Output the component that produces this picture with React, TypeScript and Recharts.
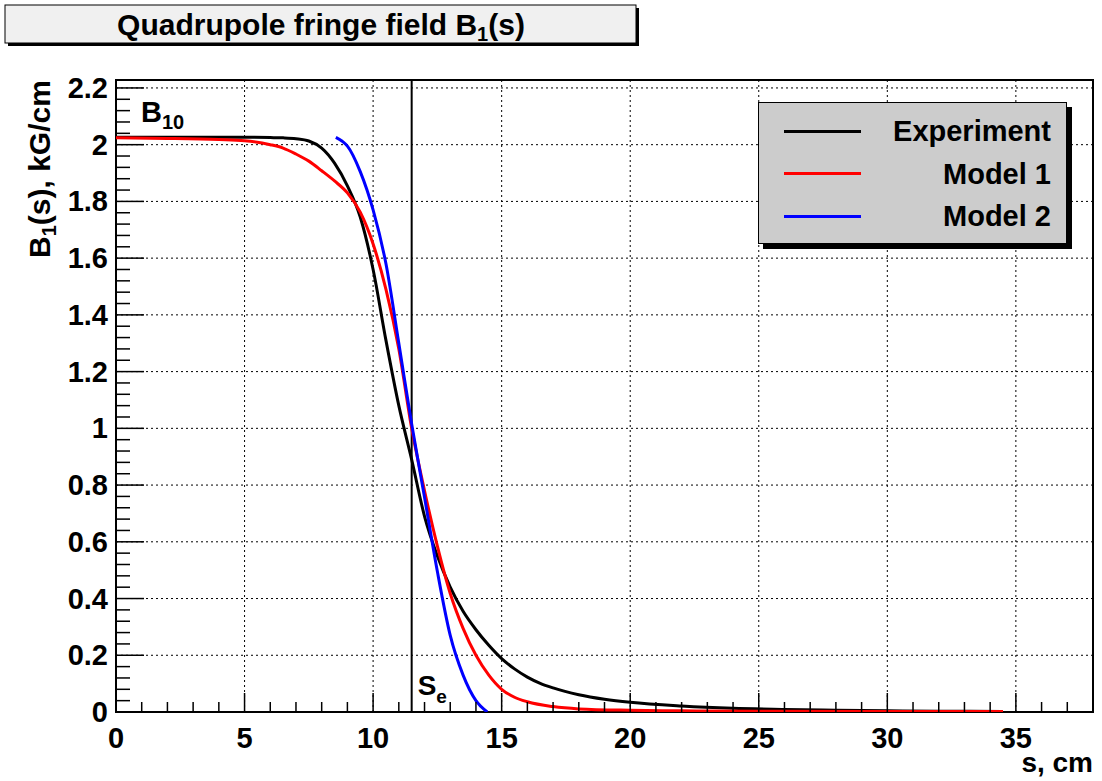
import {
  LineChart,
  Line,
  XAxis,
  YAxis,
  CartesianGrid,
  ReferenceLine,
  ReferenceArea,
  Legend,
  Customized,
} from 'recharts';

const FONT = '"Liberation Sans", Arial, Helvetica, sans-serif';

// Experiment
const expS = [0, 2, 4, 5, 6, 6.5, 7, 7.5, 8, 8.5, 9, 9.5, 10, 10.5, 11, 11.5, 12, 12.5, 13, 13.5, 14, 14.5, 15, 15.5, 16, 16.5, 17, 18, 19, 20, 22, 24, 26, 28, 30, 32, 34.5];
const expB = [2.026, 2.026, 2.026, 2.026, 2.025, 2.024, 2.021, 2.013, 1.988, 1.935, 1.855, 1.745, 1.56, 1.31, 1.08, 0.89, 0.69, 0.55, 0.44, 0.355, 0.29, 0.235, 0.188, 0.152, 0.123, 0.101, 0.085, 0.061, 0.045, 0.034, 0.021, 0.013, 0.009, 0.006, 0.004, 0.003, 0.002];

// Model 1
const m1S = [0, 2, 4, 5, 6, 6.5, 7, 7.5, 8, 8.5, 9, 9.5, 10, 10.5, 11, 11.5, 12, 12.5, 13, 13.5, 14, 14.5, 15, 15.5, 16, 17, 18, 20, 22, 25, 30, 34.5];
const m1B = [2.024, 2.022, 2.018, 2.014, 2.0, 1.988, 1.967, 1.942, 1.908, 1.872, 1.83, 1.762, 1.65, 1.49, 1.28, 1.0, 0.78, 0.585, 0.418, 0.295, 0.2, 0.13, 0.08, 0.052, 0.036, 0.019, 0.011, 0.006, 0.004, 0.003, 0.002, 0.002];

// Model 2
const m2S = [8.55, 8.8, 9, 9.5, 10, 10.5, 11, 11.5, 12, 12.5, 13, 13.5, 14, 14.44];
const m2B = [2.026, 2.012, 1.995, 1.905, 1.77, 1.58, 1.3, 1.015, 0.757, 0.495, 0.27, 0.13, 0.04, 0.0];

const xTicks = [0, 5, 10, 15, 20, 25, 30, 35];
const xMinorTicks = [1, 2, 3, 4, 6, 7, 8, 9, 11, 12, 13, 14, 16, 17, 18, 19, 21, 22, 23, 24, 26, 27, 28, 29, 31, 32, 33, 34, 36, 37];
const yTicks = [0, 0.2, 0.4, 0.6, 0.8, 1, 1.2, 1.4, 1.6, 1.8, 2, 2.2];
const yMinorTicks = [
  0.04, 0.08, 0.12, 0.16, 0.24, 0.28, 0.32, 0.36, 0.44, 0.48, 0.52, 0.56,
  0.64, 0.68, 0.72, 0.76, 0.84, 0.88, 0.92, 0.96, 1.04, 1.08, 1.12, 1.16,
  1.24, 1.28, 1.32, 1.36, 1.44, 1.48, 1.52, 1.56, 1.64, 1.68, 1.72, 1.76,
  1.84, 1.88, 1.92, 1.96, 2.04, 2.08, 2.12, 2.16,
];

const S_EDGE = 11.5;
const X_MAX = 38;
const Y_MAX = 2.228;

const toPoints = (xs: number[], ys: number[]) => xs.map((s, i) => ({ s, b: ys[i] }));
const expData = toPoints(expS, expB);
const m1Data = toPoints(m1S, m1B);
const m2Data = toPoints(m2S, m2B);

// tick marks point inwards, labels only on major ticks
const XTick = (props: any) => {
  const v = props.payload.value;
  const major = xTicks.includes(v);
  return (
    <g>
      <line x1={props.x} x2={props.x} y1={props.y} y2={props.y - (major ? 19 : 10)} stroke="#000" strokeWidth={1.5} />
      {major && (
        <text x={props.x} y={props.y + 36} textAnchor="middle" fontFamily={FONT} fontWeight="bold" fontSize={29} fill="#000">
          {v}
        </text>
      )}
    </g>
  );
};

const YTick = (props: any) => {
  const v = props.payload.value;
  const major = yTicks.includes(v);
  return (
    <g>
      <line x1={props.x} x2={props.x + (major ? 28 : 14)} y1={props.y} y2={props.y} stroke="#000" strokeWidth={1.5} />
      {major && (
        <text x={props.x - 8} y={props.y + 10} textAnchor="end" fontFamily={FONT} fontWeight="bold" fontSize={29} fill="#000">
          {v}
        </text>
      )}
    </g>
  );
};

function LegendBox({ payload }: any) {
  return (
    <div
      style={{
        position: 'relative',
        width: 309,
        height: 142,
        background: '#cccccc',
        border: '1.5px solid #000',
        boxShadow: '5px 5px 0 #000',
        boxSizing: 'border-box',
        fontFamily: FONT,
        fontWeight: 'bold',
        fontSize: 29,
        color: '#000',
      }}
    >
      {(payload || []).map((p: any, i: number) => (
        <div
          key={p.value}
          style={{ position: 'absolute', left: 0, right: 0, top: 8 + i * 42.5, height: 40, display: 'flex', alignItems: 'center' }}
        >
          <div style={{ marginLeft: 25, width: 77, height: 3, background: p.color }} />
          <div style={{ flex: 1, textAlign: 'right', paddingRight: 15, lineHeight: '40px' }}>{p.value}</div>
        </div>
      ))}
    </div>
  );
}

function SeLabel(props: any) {
  const vb = props.viewBox || {};
  return (
    <text x={vb.x + 6} y={vb.y + vb.height - 17} fontFamily={FONT} fontWeight="bold" fontSize={28} fill="#000">
      S
      <tspan fontSize={19} dy={8}>e</tspan>
    </text>
  );
}

function Annotations() {
  return (
    <g fontFamily={FONT} fontWeight="bold" fill="#000">
      <rect x={8} y={8} width={631} height={38} fill="#000" />
      <rect x={5} y={5} width={631} height={38} fill="#f0f0f0" stroke="#000" strokeWidth={1} />
      <text x={321} y={35} textAnchor="middle" fontSize={30}>
        Quadrupole fringe field B<tspan fontSize={20} dy={6}>1</tspan>
        <tspan dy={-6}>(s)</tspan>
      </text>
      <text x={141} y={122} fontSize={29}>
        B<tspan fontSize={20} dy={7}>10</tspan>
      </text>
      <text x={1093} y={772} textAnchor="end" fontSize={28}>
        s, cm
      </text>
      <text transform="translate(50,258) rotate(-90)" fontSize={30}>
        B<tspan fontSize={20} dy={6}>1</tspan>
        <tspan dy={-6}>(s), kG/cm</tspan>
      </text>
    </g>
  );
}

export default function App() {
  return (
    <div style={{ position: 'absolute', left: 0, top: 0, width: 1102, height: 781, background: '#fff' }}>
      <LineChart width={1102} height={781} margin={{ top: 80, right: 9, bottom: 0, left: 0 }}>
        <CartesianGrid
          xAxisId="x"
          yAxisId="y"
          stroke="#000"
          strokeWidth={1}
          strokeDasharray="2 3"
          verticalValues={xTicks}
          horizontalValues={yTicks}
        />
        <XAxis
          xAxisId="x"
          dataKey="s"
          type="number"
          domain={[0, X_MAX]}
          allowDataOverflow
          ticks={[...xTicks, ...xMinorTicks]}
          interval={0}
          tickLine={false}
          axisLine={false}
          tickSize={0}
          tickMargin={0}
          height={69}
          tick={XTick}
        />
        <YAxis
          yAxisId="y"
          type="number"
          domain={[0, Y_MAX]}
          allowDataOverflow
          ticks={[...yTicks, ...yMinorTicks]}
          interval={0}
          tickLine={false}
          axisLine={false}
          tickSize={0}
          tickMargin={0}
          width={116}
          tick={YTick}
        />
        <ReferenceLine
          xAxisId="x"
          yAxisId="y"
          x={S_EDGE}
          stroke="#000"
          strokeWidth={2}
          label={<SeLabel />}
        />
        <Line
          xAxisId="x"
          yAxisId="y"
          data={expData}
          dataKey="b"
          name="Experiment"
          type="monotone"
          stroke="#000000"
          strokeWidth={3}
          dot={false}
          isAnimationActive={false}
        />
        <Line
          xAxisId="x"
          yAxisId="y"
          data={m1Data}
          dataKey="b"
          name="Model 1"
          type="monotone"
          stroke="#ff0000"
          strokeWidth={3}
          dot={false}
          isAnimationActive={false}
        />
        <Line
          xAxisId="x"
          yAxisId="y"
          data={m2Data}
          dataKey="b"
          name="Model 2"
          type="monotone"
          stroke="#0000ff"
          strokeWidth={3}
          dot={false}
          isAnimationActive={false}
        />
        <ReferenceArea
          xAxisId="x"
          yAxisId="y"
          x1={0}
          x2={X_MAX}
          y1={0}
          y2={Y_MAX}
          fill="none"
          fillOpacity={0}
          stroke="#000"
          strokeWidth={2}
          ifOverflow="visible"
        />
        <Legend
          layout="horizontal"
          verticalAlign="middle"
          align="center"
          content={<LegendBox />}
          wrapperStyle={{ left: 758, top: 102, width: 309, height: 142 }}
        />
        <Customized component={<Annotations />} />
      </LineChart>
    </div>
  );
}
